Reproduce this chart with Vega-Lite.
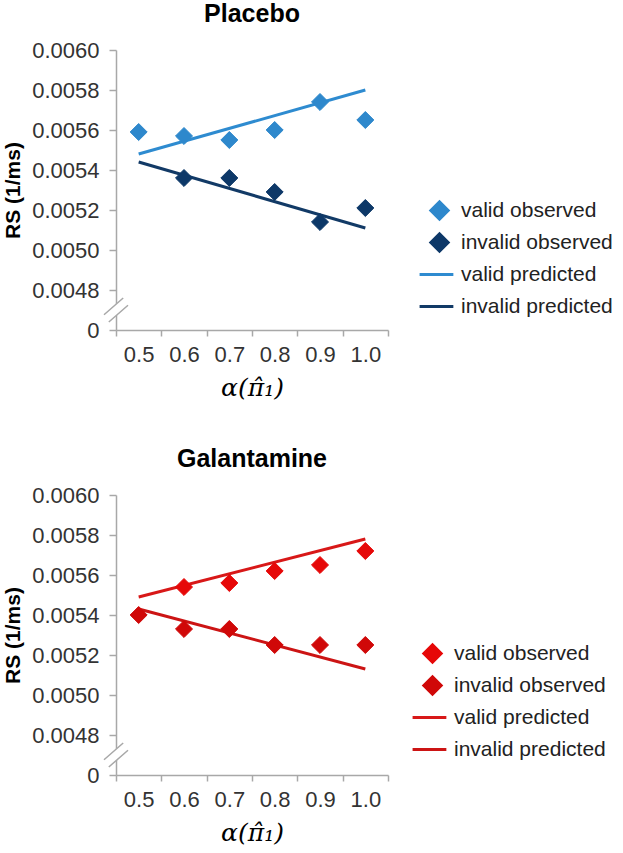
{
  "$schema": "https://vega.github.io/schema/vega-lite/v6.json",
  "background": "white",
  "padding": {"left": 2, "top": 2, "right": 5, "bottom": 0},
  "config": {
    "font": "Liberation Sans",
    "view": {"stroke": null},
    "axis": {
      "grid": false,
      "domainColor": "#a8a8a8",
      "domainWidth": 1.5,
      "tickColor": "#a8a8a8",
      "tickWidth": 1.5,
      "labelFont": "Liberation Sans",
      "labelFontSize": 22,
      "labelColor": "#333333",
      "labelOverlap": false,
      "titleColor": "#000000"
    },
    "title": {"font": "Liberation Sans", "fontSize": 25, "fontWeight": "bold", "color": "#000000", "anchor": "middle", "offset": 12}
  },
  "datasets": {
    "brk": [{"x": "0.5", "rs": 0.0047}],
    "placebo_obs": [
      {"x": "0.5", "series": "valid observed", "rs": 0.00559},
      {"x": "0.6", "series": "valid observed", "rs": 0.00557},
      {"x": "0.7", "series": "valid observed", "rs": 0.00555},
      {"x": "0.8", "series": "valid observed", "rs": 0.00560},
      {"x": "0.9", "series": "valid observed", "rs": 0.00574},
      {"x": "1.0", "series": "valid observed", "rs": 0.00565},
      {"x": "0.6", "series": "invalid observed", "rs": 0.00536},
      {"x": "0.7", "series": "invalid observed", "rs": 0.00536},
      {"x": "0.8", "series": "invalid observed", "rs": 0.00529},
      {"x": "0.9", "series": "invalid observed", "rs": 0.00514},
      {"x": "1.0", "series": "invalid observed", "rs": 0.00521}
    ],
    "placebo_pred": [
      {"x": "0.5", "series": "valid predicted", "rs": 0.00548},
      {"x": "1.0", "series": "valid predicted", "rs": 0.00580},
      {"x": "0.5", "series": "invalid predicted", "rs": 0.00544},
      {"x": "1.0", "series": "invalid predicted", "rs": 0.00511}
    ],
    "galant_obs": [
      {"x": "0.6", "series": "valid observed", "rs": 0.00554},
      {"x": "0.7", "series": "valid observed", "rs": 0.00556},
      {"x": "0.8", "series": "valid observed", "rs": 0.00562},
      {"x": "0.9", "series": "valid observed", "rs": 0.00565},
      {"x": "1.0", "series": "valid observed", "rs": 0.00572},
      {"x": "0.5", "series": "invalid observed", "rs": 0.00540},
      {"x": "0.6", "series": "invalid observed", "rs": 0.00533},
      {"x": "0.7", "series": "invalid observed", "rs": 0.00533},
      {"x": "0.8", "series": "invalid observed", "rs": 0.00525},
      {"x": "0.9", "series": "invalid observed", "rs": 0.00525},
      {"x": "1.0", "series": "invalid observed", "rs": 0.00525}
    ],
    "galant_pred": [
      {"x": "0.5", "series": "valid predicted", "rs": 0.00549},
      {"x": "1.0", "series": "valid predicted", "rs": 0.00578},
      {"x": "0.5", "series": "invalid predicted", "rs": 0.00543},
      {"x": "1.0", "series": "invalid predicted", "rs": 0.00513}
    ]
  },
  "spacing": 47,
  "resolve": {
    "scale": {"fill": "independent", "stroke": "independent", "shape": "independent"},
    "legend": {"fill": "independent", "stroke": "independent", "shape": "independent"}
  },
  "vconcat": [
    {
      "title": {"text": "Placebo"},
      "width": 272,
      "height": 280,
      "layer": [
        {
          "data": {"name": "brk"},
          "mark": {"type": "point", "shape": "M -1 0.4 L 0.6 -1 L 1 -0.4 L -0.6 1 Z", "filled": true, "fill": "white", "strokeWidth": 0, "opacity": 1, "size": 576},
          "encoding": {
            "x": {"field": "x", "type": "ordinal", "bandPosition": 0, "scale": {"type": "band", "domain": ["0.5", "0.6", "0.7", "0.8", "0.9", "1.0"], "paddingInner": 0, "paddingOuter": 0}, "axis": {"title": "α(π̂₁)", "tickBand": "extent", "labelAngle": 0, "tickSize": 6, "labelPadding": 8, "titleFont": "DejaVu Serif", "titleFontStyle": "italic", "titleFontWeight": "normal", "titleFontSize": 25, "titlePadding": 10}},
            "y": {"field": "rs", "type": "quantitative", "scale": {"domain": [0.0046, 0.006], "zero": false, "nice": false}, "axis": {"title": "RS (1/ms)", "values": [0.0046, 0.0048, 0.005, 0.0052, 0.0054, 0.0056, 0.0058, 0.006], "tickCount": 20, "labelExpr": "datum.value < 0.0047 ? '0' : format(datum.value, '.4f')", "labelOverlap": false, "tickSize": 7, "labelPadding": 10, "titleFontSize": 21, "titleFontWeight": "bold", "titlePadding": 8}}
          }
        },
        {
          "data": {"name": "brk"},
          "mark": {"type": "point", "shape": "M -1 0.4 L 0.6 -1 M -0.6 1 L 1 -0.4", "filled": false, "stroke": "#a8a8a8", "strokeWidth": 1.5, "opacity": 1, "size": 576},
          "encoding": {
            "x": {"field": "x", "type": "ordinal", "bandPosition": 0},
            "y": {"field": "rs", "type": "quantitative"}
          }
        },
        {
          "data": {"name": "placebo_pred"},
          "mark": {"type": "line", "strokeWidth": 3},
          "encoding": {
            "x": {"field": "x", "type": "ordinal"},
            "y": {"field": "rs", "type": "quantitative"},
            "stroke": {"field": "series", "type": "nominal", "scale": {"domain": ["valid observed", "invalid observed", "valid predicted", "invalid predicted"], "range": ["#2e88cc", "#0d3868", "#2e8bd0", "#123a66"]}, "legend": {"title": null, "orient": "none", "legendX": 313, "legendY": 150, "symbolSize": 300, "symbolStrokeWidth": 3, "labelFontSize": 21, "labelColor": "#222222", "labelOffset": 11, "rowPadding": 1, "gridAlign": "all", "padding": 0}}
          }
        },
        {
          "data": {"name": "placebo_obs"},
          "mark": {"type": "point", "filled": true, "opacity": 1, "size": 290, "strokeWidth": 1},
          "encoding": {
            "x": {"field": "x", "type": "ordinal"},
            "y": {"field": "rs", "type": "quantitative"},
            "fill": {"field": "series", "type": "nominal", "scale": {"domain": ["valid observed", "invalid observed", "valid predicted", "invalid predicted"], "range": ["#2e88cc", "#0d3868", "#2e8bd0", "#123a66"]}, "legend": {"title": null, "orient": "none", "legendX": 313, "legendY": 150, "symbolSize": 300, "symbolStrokeWidth": 3, "labelFontSize": 21, "labelColor": "#222222", "labelOffset": 11, "rowPadding": 1, "gridAlign": "all", "padding": 0}},
            "stroke": {"field": "series", "type": "nominal"},
            "shape": {"field": "series", "type": "nominal", "scale": {"domain": ["valid observed", "invalid observed", "valid predicted", "invalid predicted"], "range": ["diamond", "diamond", "M -2.3 0 L 1.6 0", "M -2.3 0 L 1.6 0"]}, "legend": {"title": null, "orient": "none", "legendX": 313, "legendY": 150, "symbolSize": 300, "symbolStrokeWidth": 3, "labelFontSize": 21, "labelColor": "#222222", "labelOffset": 11, "rowPadding": 1, "gridAlign": "all", "padding": 0}}
          }
        }
      ]
    },
    {
      "title": {"text": "Galantamine"},
      "width": 272,
      "height": 280,
      "layer": [
        {
          "data": {"name": "brk"},
          "mark": {"type": "point", "shape": "M -1 0.4 L 0.6 -1 L 1 -0.4 L -0.6 1 Z", "filled": true, "fill": "white", "strokeWidth": 0, "opacity": 1, "size": 576},
          "encoding": {
            "x": {"field": "x", "type": "ordinal", "bandPosition": 0, "scale": {"type": "band", "domain": ["0.5", "0.6", "0.7", "0.8", "0.9", "1.0"], "paddingInner": 0, "paddingOuter": 0}, "axis": {"title": "α(π̂₁)", "tickBand": "extent", "labelAngle": 0, "tickSize": 6, "labelPadding": 8, "titleFont": "DejaVu Serif", "titleFontStyle": "italic", "titleFontWeight": "normal", "titleFontSize": 25, "titlePadding": 10}},
            "y": {"field": "rs", "type": "quantitative", "scale": {"domain": [0.0046, 0.006], "zero": false, "nice": false}, "axis": {"title": "RS (1/ms)", "values": [0.0046, 0.0048, 0.005, 0.0052, 0.0054, 0.0056, 0.0058, 0.006], "tickCount": 20, "labelExpr": "datum.value < 0.0047 ? '0' : format(datum.value, '.4f')", "labelOverlap": false, "tickSize": 7, "labelPadding": 10, "titleFontSize": 21, "titleFontWeight": "bold", "titlePadding": 8}}
          }
        },
        {
          "data": {"name": "brk"},
          "mark": {"type": "point", "shape": "M -1 0.4 L 0.6 -1 M -0.6 1 L 1 -0.4", "filled": false, "stroke": "#a8a8a8", "strokeWidth": 1.5, "opacity": 1, "size": 576},
          "encoding": {
            "x": {"field": "x", "type": "ordinal", "bandPosition": 0},
            "y": {"field": "rs", "type": "quantitative"}
          }
        },
        {
          "data": {"name": "galant_pred"},
          "mark": {"type": "line", "strokeWidth": 3},
          "encoding": {
            "x": {"field": "x", "type": "ordinal"},
            "y": {"field": "rs", "type": "quantitative"},
            "stroke": {"field": "series", "type": "nominal", "scale": {"domain": ["valid observed", "invalid observed", "valid predicted", "invalid predicted"], "range": ["#e60808", "#d00808", "#d81818", "#cc1414"]}, "legend": {"title": null, "orient": "none", "legendX": 306, "legendY": 148, "symbolSize": 300, "symbolStrokeWidth": 3, "labelFontSize": 21, "labelColor": "#222222", "labelOffset": 11, "rowPadding": 1, "gridAlign": "all", "padding": 0}}
          }
        },
        {
          "data": {"name": "galant_obs"},
          "mark": {"type": "point", "filled": true, "opacity": 1, "size": 290, "strokeWidth": 1},
          "encoding": {
            "x": {"field": "x", "type": "ordinal"},
            "y": {"field": "rs", "type": "quantitative"},
            "fill": {"field": "series", "type": "nominal", "scale": {"domain": ["valid observed", "invalid observed", "valid predicted", "invalid predicted"], "range": ["#e60808", "#d00808", "#d81818", "#cc1414"]}, "legend": {"title": null, "orient": "none", "legendX": 306, "legendY": 148, "symbolSize": 300, "symbolStrokeWidth": 3, "labelFontSize": 21, "labelColor": "#222222", "labelOffset": 11, "rowPadding": 1, "gridAlign": "all", "padding": 0}},
            "stroke": {"field": "series", "type": "nominal"},
            "shape": {"field": "series", "type": "nominal", "scale": {"domain": ["valid observed", "invalid observed", "valid predicted", "invalid predicted"], "range": ["diamond", "diamond", "M -2.3 0 L 1.6 0", "M -2.3 0 L 1.6 0"]}, "legend": {"title": null, "orient": "none", "legendX": 306, "legendY": 148, "symbolSize": 300, "symbolStrokeWidth": 3, "labelFontSize": 21, "labelColor": "#222222", "labelOffset": 11, "rowPadding": 1, "gridAlign": "all", "padding": 0}}
          }
        }
      ]
    }
  ]
}
